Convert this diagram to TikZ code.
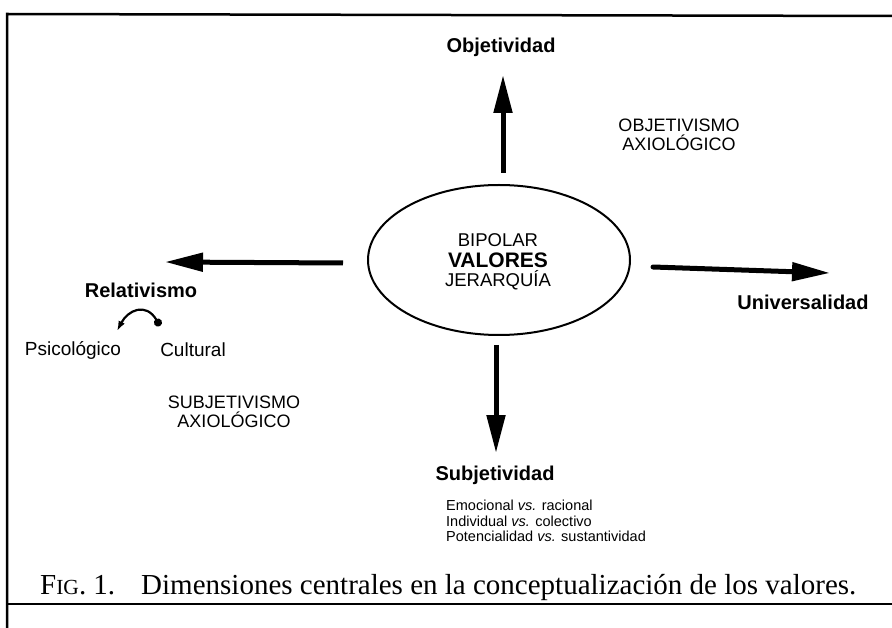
\documentclass[tikz,border=0pt]{standalone}
\usepackage{fontspec}
\setmainfont{Liberation Serif}
\setsansfont{Liberation Sans}
\usetikzlibrary{arrows.meta,shapes.geometric}
\tikzset{
  lbl/.style={font=\sffamily\bfseries\fontsize{20}{22}\selectfont, inner sep=0pt},
  captxt/.style={font=\sffamily\fontsize{18}{19}\selectfont, align=center, inner sep=0pt},
  subtxt/.style={font=\sffamily\fontsize{19}{22}\selectfont, inner sep=0pt},
  big/.style={line width=5pt, -{Triangle[length=38pt,width=18pt]}},
  frameline/.style={line width=2.5pt},
}
\begin{document}
\begin{tikzpicture}[x=1pt,y=-1pt]
\useasboundingbox (0,0) rectangle (892,628);
% frame
\draw[frameline] (7,628) -- (7,14) -- (892,16);
\draw[line width=2pt] (7,604) -- (892,604);

% centre
\node[draw, ellipse, line width=2pt, minimum width=262pt, minimum height=150pt, inner sep=0pt] (ell) at (499,260) {};
\node[captxt, font=\sffamily\fontsize{18.5}{20}\selectfont] (bip) at (498,240) {BIPOLAR};
\node[lbl, font=\sffamily\bfseries\fontsize{21}{22}\selectfont] (val) at (498,260) {VALORES};
\node[captxt, font=\sffamily\fontsize{18.5}{20}\selectfont] (jer) at (498,280) {JERARQUÍA};

% labels
\node[lbl] (obj) at (501,47) {Objetividad};
\node[captxt] (objax) at (679,135) {OBJETIVISMO\\AXIOLÓGICO};
\node[lbl] (rel) at (141,290) {Relativismo};
\node[subtxt] (psi) at (73,350) {Psicológico};
\node[subtxt] (cul) at (193,350) {Cultural};
\node[captxt] (subax) at (234,412) {SUBJETIVISMO\\AXIOLÓGICO};
\node[lbl] (uni) at (803,302) {Universalidad};
\node[lbl] (sbj) at (495,475) {Subjetividad};
\node[font=\sffamily\fontsize{14.5}{15.5}\selectfont, align=left, anchor=north west, inner sep=0pt] (list) at (446,500)
  {Emocional \textit{vs.} racional\\Individual \textit{vs.} colectivo\\Potencialidad \textit{vs.} sustantividad};
\node[font=\fontsize{29}{30}\selectfont, inner sep=0pt, anchor=base west] (fig) at (40,594)
  {F{\fontsize{21.5}{20}\selectfont IG}. 1.\hspace{26pt}Dimensiones centrales en la conceptualización de los valores.};

% arrow end points
\coordinate (upS) at (503,173);
\coordinate (upE) at (503,75);
\coordinate (dnS) at (496,345);
\coordinate (dnE) at (496,453);
\coordinate (lfS) at (343,263);
\coordinate (lfE) at (165,262);
\coordinate (rtS) at (653,267);
\coordinate (rtE) at (830,273);
\draw[big] (upS) -- (upE);
\draw[big] (dnS) -- (dnE);
\draw[big] (lfS) -- (lfE);
\draw[big, line cap=round] (rtS) -- (rtE);

% small curved arrow
\coordinate (cvL) at (117,331);
\coordinate (cvR) at (160,326);
\draw[line width=2.2pt, {Latex[length=10pt,width=7pt]}-{Circle[length=8pt]}] (cvL) .. controls (128,310) and (146,302) .. (cvR);
\end{tikzpicture}
\end{document}
